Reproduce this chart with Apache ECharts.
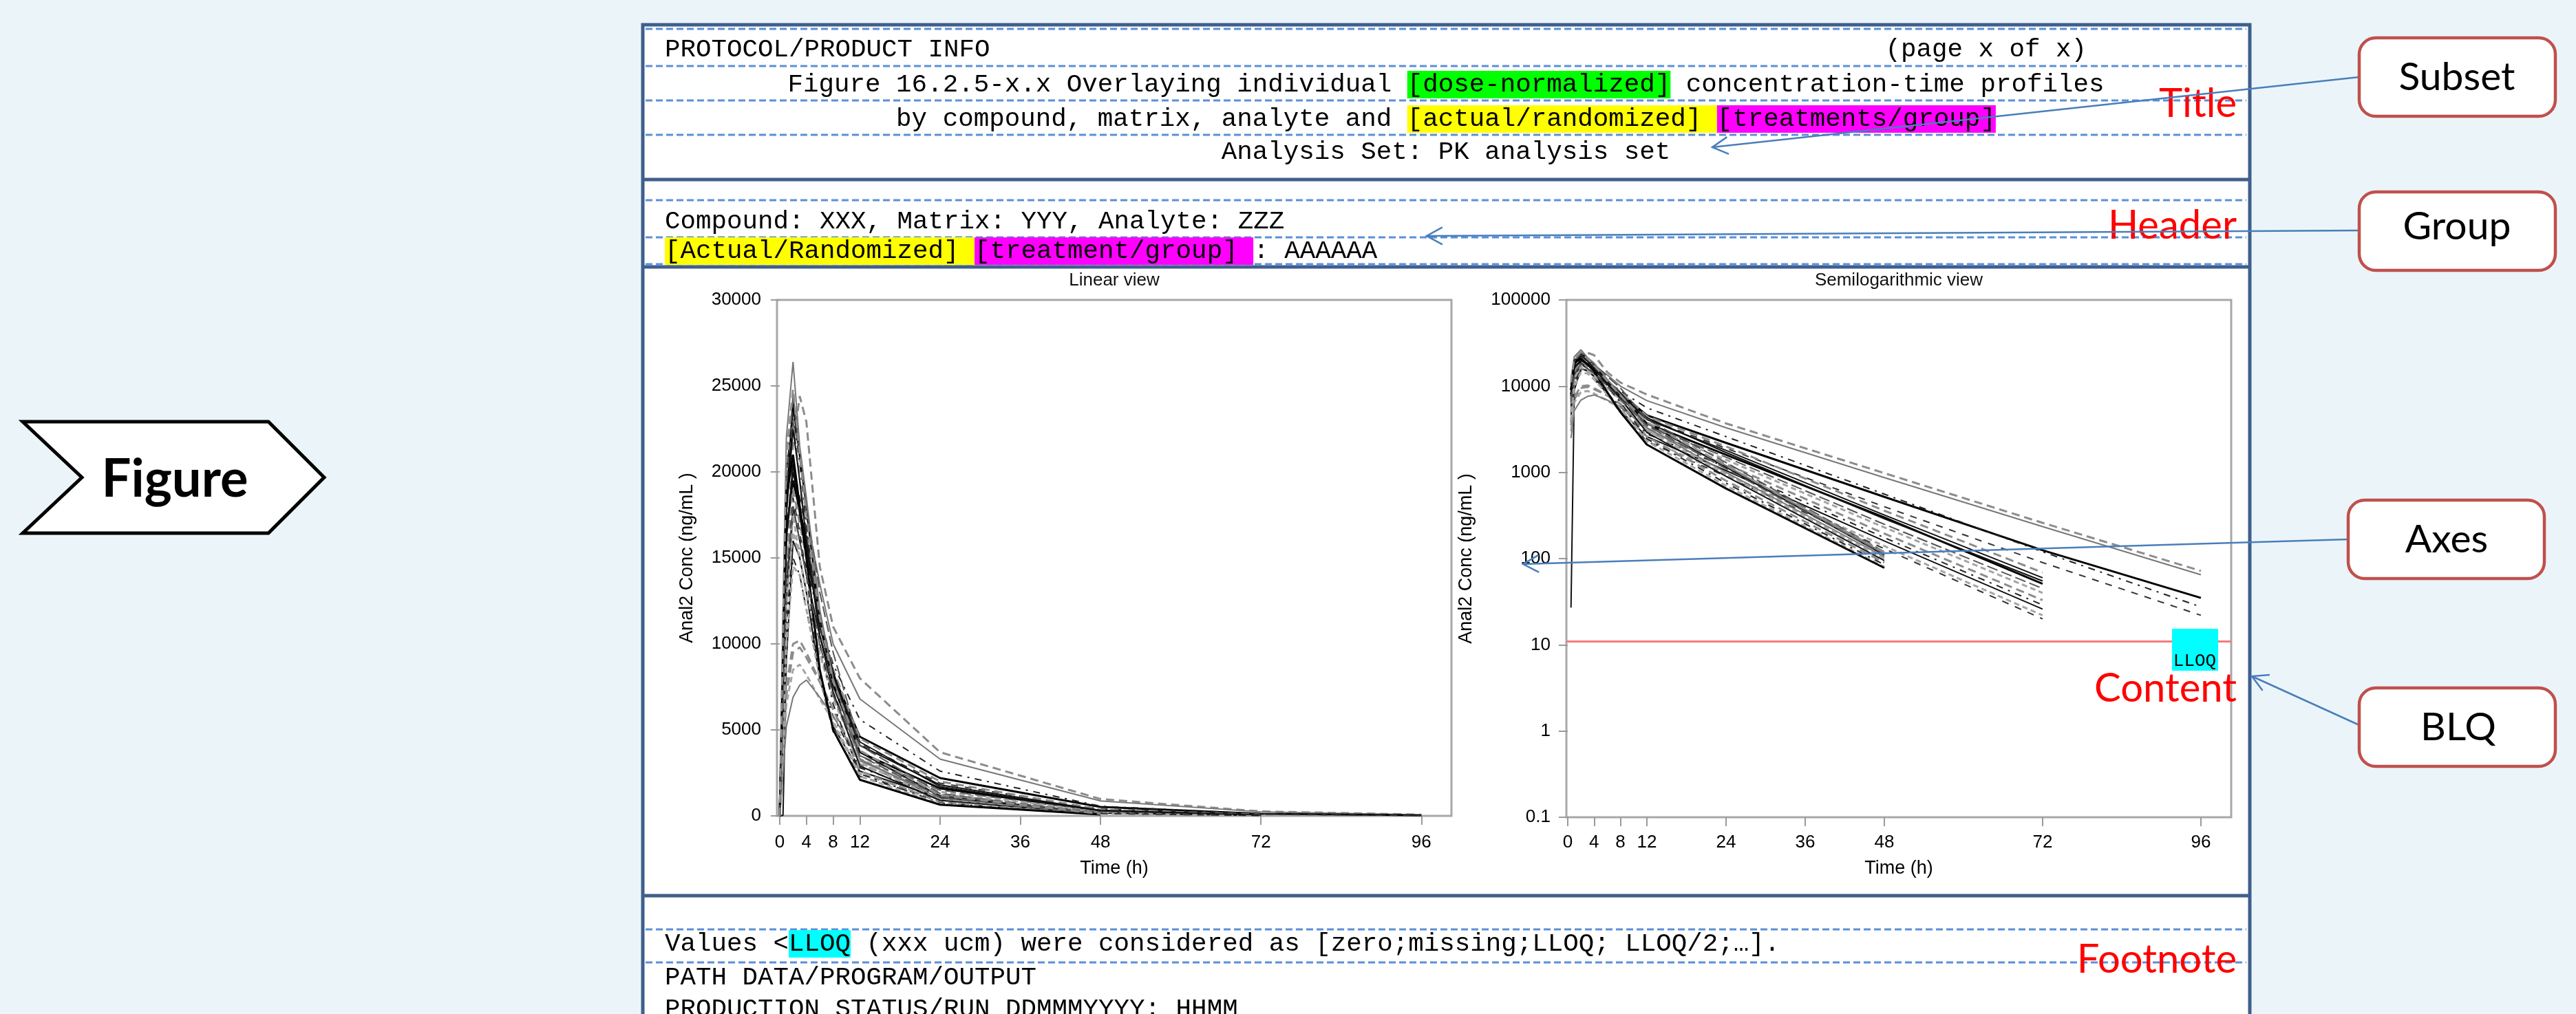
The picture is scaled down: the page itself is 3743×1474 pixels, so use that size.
<!DOCTYPE html>
<html>
<head>
<meta charset="utf-8">
<script src="https://cdn.jsdelivr.net/npm/echarts@6/dist/echarts.min.js"></script>
<style>
html,body{margin:0;padding:0;background:#EBF5F9;}
#c{width:3743px;height:1474px;}
</style>
</head>
<body>
<div id="c"></div>
<script>
// ---------------- DATA ----------------
const times = [0, 0.5, 1, 2, 3, 4, 6, 8, 12, 24, 48, 72, 96];
// subjects sampled up to 96 h
const subjA1 = [0, 7000, 15000, 21500, 24400, 22900, 14500, 11000, 8000, 3700, 980, 260, 72];
const subjA2 = [0, 5200, 12000, 17500, 18500, 17500, 13500, 10000, 6800, 3300, 870, 235, 65];
const subjA3 = [0, 8000, 16500, 19500, 17800, 16000, 11500, 8200, 4600, 2200, 520, 125, 35];
const subjA4 = [0, 4200, 11000, 16000, 15500, 14500, 11500, 8800, 5600, 2600, 560, 120, 27.5];
const subjA5 = [0, 6800, 14500, 20500, 18500, 16500, 11200, 8000, 4200, 1900, 400, 90, 22];
// subjects sampled up to 72 h
const subjB1 = [0, 9000, 18000, 24000, 21000, 18000, 11500, 7600, 3700, 1600, 300, 51, null];
const subjB2 = [0, 7200, 15000, 19000, 17000, 15000, 11600, 8500, 4500, 2000, 360, 69, null];
const subjB3 = [0, 5600, 13000, 18000, 16000, 14000, 10500, 7800, 4100, 1800, 320, 60, null];
const subjB4 = [0, 10000, 20000, 23000, 19500, 16500, 10500, 7200, 3500, 1500, 250, 45, null];
const subjB5 = [0, 6600, 14500, 17500, 15000, 13000, 9400, 6800, 3300, 1400, 230, 40, null];
const subjB6 = [0, 3500, 7000, 9500, 9800, 9200, 7800, 6200, 3000, 1250, 195, 33, null];
const subjB7 = [0, 4600, 10500, 15000, 14000, 12000, 8200, 5800, 2800, 1150, 175, 29, null];
const subjB8 = [0, 27, 9000, 16000, 15000, 13000, 8000, 5200, 2600, 1050, 160, 26, null];
const subjB9 = [0, 3000, 6500, 8500, 8800, 8200, 6800, 5500, 2450, 950, 140, 22, null];
const subjB10 = [0, 6000, 13500, 18500, 16500, 14000, 8000, 4900, 2300, 900, 130, 20, null];
const subjB11 = [0, 7800, 16500, 20000, 18000, 15500, 11000, 8000, 4300, 1700, 290, 55, null];
// subjects sampled up to 48 h
const subjC0 = [0, 2500, 5200, 6900, 7600, 7900, 6900, 5800, 3200, 1200, 115, null, null];
const subjC1 = [0, 9500, 19000, 24500, 21000, 18000, 13000, 9500, 4100, 1300, 120, null, null];
const subjC2 = [0, 7600, 16000, 20500, 17500, 15000, 11500, 8400, 3700, 1150, 110, null, null];
const subjC3 = [0, 12000, 22000, 26400, 21500, 18500, 12000, 8000, 3300, 1000, 105, null, null];
const subjC4 = [0, 5000, 12500, 16500, 15000, 13000, 9500, 7000, 3100, 950, 100, null, null];
const subjC5 = [0, 8000, 17500, 22500, 19500, 16000, 10500, 7200, 2900, 900, 95, null, null];
const subjC6 = [0, 3800, 7500, 10000, 10200, 9500, 7800, 6200, 2600, 800, 90, null, null];
const subjC7 = [0, 10500, 20000, 23500, 20500, 17000, 10000, 6500, 2450, 750, 85, null, null];
const subjC8 = [0, 4000, 10000, 14500, 14000, 12000, 8000, 5400, 2300, 700, 80, null, null];
const subjC9 = [0, 9000, 18500, 21000, 18000, 15000, 8500, 5000, 2100, 650, 78, null, null];
const subjC10 = [0, 6500, 14000, 18000, 16000, 14000, 10000, 7000, 3500, 1100, 112, null, null];
const subjC11 = [0, 11000, 21000, 24800, 21000, 17500, 11500, 7800, 3800, 1200, 118, null, null];

const subjects = [subjA1, subjA2, subjA3, subjA4, subjA5,
  subjB1, subjB2, subjB3, subjB4, subjB5, subjB6, subjB7, subjB8, subjB9, subjB10, subjB11,
  subjC0, subjC1, subjC2, subjC3, subjC4, subjC5, subjC6, subjC7, subjC8, subjC9, subjC10, subjC11];

const xTicks = [0, 4, 8, 12, 24, 36, 48, 72, 96];
const linMin = 0, linMax = 30000, linStep = 5000;
const logMin = 0.1, logMax = 100000;
const lloq = 11;

// ---------------- STYLES ----------------
const styleMap = {
  bsolid: {color: '#000000', type: 'solid', width: 3},
  bthin: {color: '#111111', type: 'solid', width: 2},
  gsolid: {color: '#777777', type: 'solid', width: 2},
  gdash: {color: '#8c8c8c', type: [12, 7], width: 3},
  ddash: {color: '#333333', type: [10, 10], width: 2},
  ddot: {color: '#222222', type: [10, 8, 3, 8], width: 2},
  lgdash: {color: '#a5a5a5', type: [8, 5], width: 3},
  mdash: {color: '#555555', type: [16, 6], width: 2}
};
const styleKeys = ['gdash', 'gsolid', 'bsolid', 'ddot', 'ddash',
  'bsolid', 'gdash', 'bthin', 'mdash', 'lgdash', 'gdash', 'ddot', 'bthin', 'lgdash', 'ddash', 'bthin',
  'gsolid', 'mdash', 'bthin', 'gsolid', 'lgdash', 'bthin', 'gdash', 'ddot', 'lgdash', 'bsolid', 'mdash', 'gdash'];

const mono = 'Liberation Mono';
const sans = 'Liberation Sans';
const callout = 'Lato';
const frameBlue = '#3F5F8C';
const dashBlue = '#5B8FD9';
const linkBlue = '#4A7EBB';

// ---------------- SERIES ----------------
const series = [];
subjects.forEach((s, i) => {
  const st = styleMap[styleKeys[i % styleKeys.length]];
  const lin = [], lg = [];
  times.forEach((t, j) => {
    const v = s[j];
    if (v === null || v === undefined) return;
    lin.push([t, v]);
    if (v > 0) lg.push([t, v]);
  });
  const ls = {color: st.color, type: st.type, width: st.width};
  series.push({type: 'line', name: 'S' + (i + 1), xAxisIndex: 0, yAxisIndex: 0, data: lin,
    symbol: 'none', showSymbol: false, silent: true, lineStyle: ls, z: 3});
  const ser = {type: 'line', name: 'S' + (i + 1) + 'log', xAxisIndex: 1, yAxisIndex: 1, data: lg,
    symbol: 'none', showSymbol: false, silent: true, lineStyle: ls, z: 3};
  if (i === 0) {
    ser.markLine = {silent: true, symbol: ['none', 'none'], label: {show: false},
      lineStyle: {color: '#F47C7C', width: 3, type: 'solid'}, data: [{yAxis: lloq}], z: 4};
  }
  series.push(ser);
});

// ---------------- GRAPHICS ----------------
const g = [];
g.push({type: 'rect', z: -10, shape: {x: 934, y: 36, width: 2335, height: 1500},
  style: {fill: '#ffffff', stroke: frameBlue, lineWidth: 5}});
[261, 388, 1302].forEach(y => g.push({type: 'line', z: -9,
  shape: {x1: 934, y1: y, x2: 3269, y2: y}, style: {stroke: frameBlue, lineWidth: 5}}));
[42, 96, 146, 196, 291, 345, 384, 1351, 1399].forEach(y => g.push({type: 'line', z: -9,
  shape: {x1: 938, y1: y, x2: 3264, y2: y}, style: {stroke: dashBlue, lineWidth: 3, lineDash: [10, 5]}}));

function rs(extra) {
  return Object.assign({fontFamily: mono, fontSize: 37.5, fill: '#000', height: 40}, extra || {});
}
function monoText(x, y, text, align, rich) {
  g.push({type: 'text', z: 5, x: x, y: y, style: {text: text, fontFamily: mono, fontSize: 37.5,
    fill: '#000', align: align, verticalAlign: 'middle', rich: rich}});
}
const richSet = {n: rs(), g: rs({backgroundColor: '#00FF00'}), y: rs({backgroundColor: '#FFFF00'}),
  m: rs({backgroundColor: '#FF00FF'}), c: rs({backgroundColor: '#00FFFF'})};

monoText(966, 72, 'PROTOCOL/PRODUCT INFO', 'left');
monoText(3032, 72, '(page x of x)', 'right');
monoText(2101, 123, '{n|Figure 16.2.5-x.x Overlaying individual }{g|[dose-normalized]}{n| concentration-time profiles}', 'center', richSet);
monoText(2101, 173, '{n|by compound, matrix, analyte and }{y|[actual/randomized] }{m|[treatments/group]}', 'center', richSet);
monoText(2101, 221, 'Analysis Set: PK analysis set', 'center');
monoText(966, 322, 'Compound: XXX, Matrix: YYY, Analyte: ZZZ', 'left');
monoText(966, 365, '{y|[Actual/Randomized] }{m|[treatment/group] }{n|: AAAAAA}', 'left', richSet);
monoText(966, 1372, '{n|Values <}{c|LLOQ}{n| (xxx ucm) were considered as [zero;missing;LLOQ; LLOQ/2;…].}', 'left', richSet);
monoText(966, 1421, 'PATH DATA/PROGRAM/OUTPUT', 'left');
monoText(966, 1467, 'PRODUCTION STATUS/RUN DDMMMYYYY: HHMM', 'left');

g.push({type: 'text', z: 5, x: 1619, y: 408, style: {text: 'Linear view', fontFamily: sans, fontSize: 26,
  fill: '#111', align: 'center', verticalAlign: 'middle'}});
g.push({type: 'text', z: 5, x: 2759, y: 408, style: {text: 'Semilogarithmic view', fontFamily: sans, fontSize: 26,
  fill: '#111', align: 'center', verticalAlign: 'middle'}});

g.push({type: 'rect', z: 20, shape: {x: 3156, y: 914, width: 67, height: 61}, style: {fill: '#00FFFF'}});
g.push({type: 'text', z: 21, x: 3189, y: 961, style: {text: 'LLOQ', fontFamily: mono, fontSize: 26,
  fill: '#000', align: 'center', verticalAlign: 'middle'}});

[['Title', 151], ['Header', 328], ['Content', 1001], ['Footnote', 1395]].forEach(([t, y]) => {
  g.push({type: 'text', z: 22, x: 3250, y: y, style: {text: t, fontFamily: callout, fontSize: 58,
    fill: '#FF0000', align: 'right', verticalAlign: 'middle'}});
});

g.push({type: 'polygon', z: 5, shape: {points: [[33, 613], [390, 613], [471, 694], [390, 775], [33, 775], [119, 694]]},
  style: {fill: '#ffffff', stroke: '#000', lineWidth: 5}});
g.push({type: 'text', z: 6, x: 254, y: 697, style: {text: 'Figure', fontFamily: callout, fontWeight: 'bold',
  fontSize: 76, fill: '#000', align: 'center', verticalAlign: 'middle'}});

[['Subset', 3428, 55, 3570, 113], ['Group', 3428, 279, 3570, 330], ['Axes', 3412, 727, 3555, 785], ['BLQ', 3428, 1000, 3572, 1058]]
  .forEach(([t, x, y, cx, cy]) => {
    g.push({type: 'rect', z: 30, shape: {x: x, y: y, width: 285, height: 114, r: 24},
      style: {fill: '#ffffff', stroke: '#C0504D', lineWidth: 4.5}});
    g.push({type: 'text', z: 31, x: cx, y: cy, style: {text: t, fontFamily: callout, fontSize: 57,
      fill: '#000', align: 'center', verticalAlign: 'middle'}});
  });

function arrow(x1, y1, x2, y2) {
  const a = Math.atan2(y2 - y1, x2 - x1), L = 26, h = 0.5;
  const p1 = [x2 - L * Math.cos(a - h), y2 - L * Math.sin(a - h)];
  const p2 = [x2 - L * Math.cos(a + h), y2 - L * Math.sin(a + h)];
  g.push({type: 'line', z: 25, shape: {x1: x1, y1: y1, x2: x2, y2: y2}, style: {stroke: linkBlue, lineWidth: 2.5}});
  g.push({type: 'polyline', z: 25, shape: {points: [p1, [x2, y2], p2]}, style: {stroke: linkBlue, lineWidth: 2.5, fill: null}});
}
arrow(3428, 112, 2488, 214);
arrow(3428, 335, 2073, 343);
arrow(3412, 784, 2213, 820);
arrow(3428, 1054, 3272, 983);

// ---------------- OPTION ----------------
const tickStyle = {show: true, length: 13, lineStyle: {color: '#9a9a9a', width: 2}};
const labelFont = {fontFamily: sans, fontSize: 26, color: '#000'};
const nameFont = {fontFamily: sans, fontSize: 27, color: '#000'};
const option = {
  backgroundColor: '#EBF5F9',
  animation: false,
  grid: [
    {left: 1129, top: 436, width: 980, height: 750, show: true, borderColor: '#A8A8A8', borderWidth: 3,
      backgroundColor: '#fff', containLabel: false, outerBoundsMode: 'none'},
    {left: 2276, top: 436, width: 966, height: 752, show: true, borderColor: '#A8A8A8', borderWidth: 3,
      backgroundColor: '#fff', containLabel: false, outerBoundsMode: 'none'}
  ],
  xAxis: [
    {gridIndex: 0, type: 'value', min: -0.4, max: 100.5, axisLine: {show: false}, splitLine: {show: false},
      axisTick: Object.assign({customValues: xTicks}, tickStyle),
      axisLabel: Object.assign({customValues: xTicks, margin: 26}, labelFont),
      name: 'Time (h)', nameLocation: 'middle', nameGap: 63, nameTextStyle: nameFont},
    {gridIndex: 1, type: 'value', min: -0.2, max: 100.6, axisLine: {show: false}, splitLine: {show: false},
      axisTick: Object.assign({customValues: xTicks}, tickStyle),
      axisLabel: Object.assign({customValues: xTicks, margin: 24}, labelFont),
      name: 'Time (h)', nameLocation: 'middle', nameGap: 61, nameTextStyle: nameFont}
  ],
  yAxis: [
    {gridIndex: 0, type: 'value', min: linMin, max: linMax, interval: linStep,
      axisLine: {show: false}, splitLine: {show: false}, axisTick: tickStyle,
      axisLabel: Object.assign({margin: 23, formatter: v => String(v)}, labelFont),
      name: 'Anal2 Conc (ng/mL )', nameLocation: 'middle', nameGap: 117, nameRotate: 90, nameTextStyle: nameFont},
    {gridIndex: 1, type: 'log', logBase: 10, min: logMin, max: logMax,
      axisLine: {show: false}, splitLine: {show: false}, minorTick: {show: false}, axisTick: tickStyle,
      axisLabel: Object.assign({margin: 23, formatter: v => String(+Number(v).toPrecision(6))}, labelFont),
      name: 'Anal2 Conc (ng/mL )', nameLocation: 'middle', nameGap: 132, nameRotate: 90, nameTextStyle: nameFont}
  ],
  series: series,
  graphic: {elements: g}
};
const chart = echarts.init(document.getElementById('c'), null, {renderer: 'canvas'});
chart.setOption(option);
</script>
</body>
</html>
